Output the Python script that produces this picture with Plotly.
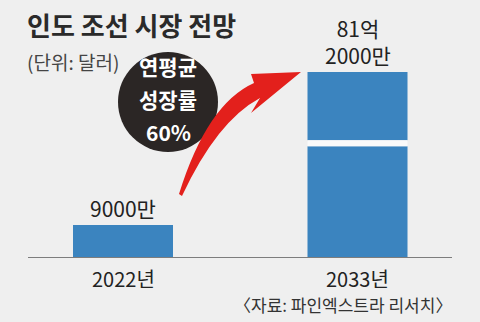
import plotly.graph_objects as go

# ---- data ----
categories = ["2022년", "2033년"]
values_eok = [0.9, 81.2]          # 억 달러
value_labels = ["9000만", "81억<br>2000만"]
title_text = "인도 조선 시장 전망"
unit_text = "(단위: 달러)"
cagr_text = ["연평균", "성장률", "60%"]
source_text = "〈자료: 파인엑스트라 리서치〉"

# broken-axis parameters (display units)
BREAK_LO = 3.05
BREAK_HI = 79.34
GAP = 0.164

W, H = 480, 322
BASE_PX = 258
FONT = "Noto Sans CJK KR"
BAR_COLOR = "#3b84bf"
BG = "#efefef"


def disp(v):
    return v if v <= BREAK_LO else BREAK_LO + GAP + (v - BREAK_HI)


def P(px, py):
    return px / W, (BASE_PX - py) / BASE_PX


fig = go.Figure()

# lower segments
low = [min(v, BREAK_LO) for v in values_eok]
fig.add_bar(x=categories, y=low, base=[0, 0], marker_color=BAR_COLOR,
            marker_line_width=0, width=0.4264, hoverinfo="skip")
# upper segments (only for broken bars)
up_x, up_base, up_h = [], [], []
for c, v in zip(categories, values_eok):
    if v > BREAK_LO:
        up_x.append(c)
        up_base.append(BREAK_LO + GAP)
        up_h.append(disp(v) - (BREAK_LO + GAP))
fig.add_bar(x=up_x, y=up_h, base=up_base, marker_color=BAR_COLOR,
            marker_line_width=0, width=0.4264, hoverinfo="skip")

# white break band
for i, v in enumerate(values_eok):
    if v > BREAK_LO:
        fig.add_shape(type="rect", xref="x", yref="y",
                      x0=i - 0.2132, x1=i + 0.2132, y0=BREAK_LO, y1=BREAK_LO + GAP,
                      fillcolor="#fafafa", line_width=0, layer="above")

# value labels
for i, (v, lab) in enumerate(zip(values_eok, value_labels)):
    fig.add_annotation(x=categories[i], y=disp(v), text=lab, showarrow=False,
                       yanchor="bottom", yshift=0,
                       font=dict(family=FONT, size=21, color="#222"))

# category labels
for i, c in enumerate(categories):
    _, ly = P(0, 278)
    fig.add_annotation(x=c, xref="x", yref="paper", y=ly, text=c, showarrow=False,
                       yanchor="middle",
                       font=dict(family=FONT, size=20, color="#222"))

# baseline
x0, _ = P(28, 0)
x1, _ = P(452, 0)
fig.add_shape(type="line", xref="paper", yref="y", x0=x0, x1=x1, y0=0, y1=0,
              line=dict(color="#7d7d7d", width=2), layer="above")

# dark circle
cx0, cy0 = P(118, 152)
cx1, cy1 = P(218, 52)
fig.add_shape(type="circle", xref="paper", yref="paper", x0=cx0, x1=cx1, y0=cy0, y1=cy1,
              fillcolor="#2b2625", line_width=0)

# red curved arrow
def pt(px, py):
    a, b = P(px, py)
    return f"{a:.5f},{b:.5f}"

path = (f"M {pt(179,194)} Q {pt(207,104)} {pt(254,83)} "
        f"L {pt(251,74)} L {pt(301,72)} L {pt(251,113)} L {pt(260,98)} "
        f"Q {pt(217,121)} {pt(182,196)} Z")
fig.add_shape(type="path", xref="paper", yref="paper", path=path,
              fillcolor="#e3201c", line_width=0)

# circle texts
for txt, py in zip(cagr_text, [66, 99, 132]):
    ax, ay = P(168, py)
    fig.add_annotation(xref="paper", yref="paper", x=ax, y=ay, text=txt, showarrow=False,
                       xanchor="center", yanchor="middle",
                       font=dict(family=FONT, size=21, color="white", weight=700))

# title & unit
tx, ty = P(25, 24)
fig.add_annotation(xref="paper", yref="paper", x=tx, y=ty, text=title_text, showarrow=False,
                   xanchor="left", yanchor="middle",
                   font=dict(family=FONT, size=26, color="#2a2a2a", weight=700))
ux, uy = P(25, 62)
fig.add_annotation(xref="paper", yref="paper", x=ux, y=uy, text=unit_text, showarrow=False,
                   xanchor="left", yanchor="middle",
                   font=dict(family=FONT, size=19, color="#444"))

# source
sx, sy = P(454, 305)
fig.add_annotation(xref="paper", yref="paper", x=sx, y=sy, text=source_text, showarrow=False,
                   xanchor="right", yanchor="middle",
                   font=dict(family=FONT, size=17, color="#333"))

# y range: top of plot area at pixel 0
y_top = BASE_PX / 36.67
# x range so that bar centers sit at 123 px and 357.5 px
r0 = -123 / 234.5
r1 = r0 + W / 234.5

fig.update_layout(
    width=W, height=H,
    margin=dict(l=0, r=0, t=0, b=H - BASE_PX),
    paper_bgcolor=BG, plot_bgcolor=BG,
    showlegend=False, barmode="overlay",
    xaxis=dict(range=[r0, r1], showgrid=False, zeroline=False, showline=False,
               ticks="", showticklabels=False, fixedrange=True),
    yaxis=dict(range=[0, y_top], showgrid=False, zeroline=False, showline=False,
               showticklabels=False, fixedrange=True),
)

fig.write_html("out.html")
